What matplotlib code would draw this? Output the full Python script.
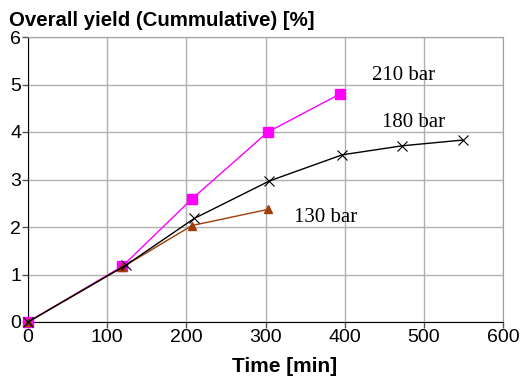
import matplotlib
matplotlib.use('Agg')
import matplotlib.pyplot as plt

# datos
t210 = [0, 119, 207, 303, 394]
y210 = [0, 1.17, 2.59, 4.0, 4.8]
t180 = [0, 124, 210, 305, 397, 473, 549]
y180 = [0, 1.2, 2.18, 2.97, 3.52, 3.71, 3.83]
t130 = [0, 119, 207, 303]
y130 = [0, 1.15, 2.03, 2.37]

fig = plt.figure(figsize=(5.22, 3.76), dpi=100)
ax = fig.add_axes([28/522, 1-322/376, 475/522, 285/376])

ax.plot(t210, y210, color='#ff00ff', marker='s', markersize=6.5, lw=1.0, zorder=3, clip_on=False)
ax.plot(t180, y180, color='black', marker='x', markersize=7, mew=0.8, lw=1.0, zorder=4, clip_on=False)
ax.plot(t130, y130, color='#a03c0a', marker='^', markersize=6, lw=1.0, zorder=3, clip_on=False)

ax.set_xlim(0, 600)
ax.set_ylim(0, 6)
ax.set_xticks(range(0, 601, 100))
ax.set_yticks(range(0, 7))
ax.grid(True, color='#b0b0b0', lw=1)
ax.set_axisbelow(True)
for s in ['top', 'right']:
    ax.spines[s].set_color('#a0a0a0')
for s in ['left', 'bottom']:
    ax.spines[s].set_color('black')
ax.tick_params(direction='out', length=4, width=1, color='#555555',
               labelsize=14, pad=1)
for lab in ax.get_xticklabels() + ax.get_yticklabels():
    lab.set_family('Liberation Sans')

ax.text(475, 5.2, '210 bar', family='Liberation Serif', fontsize=15, ha='center', va='center')
ax.text(487, 4.21, '180 bar', family='Liberation Serif', fontsize=15, ha='center', va='center')
ax.text(376, 2.19, '130 bar', family='Liberation Serif', fontsize=15, ha='center', va='center')

fig.text(9/522, 1-20/376, 'Overall yield (Cummulative) [%]', family='Liberation Sans',
         fontweight='bold', fontsize=14.7, va='center', ha='center' if False else 'left')
fig.text(285/522, 1-366/376, 'Time [min]', family='Liberation Sans',
         fontweight='bold', fontsize=15, va='center', ha='center')

fig.savefig('out.png', dpi=100)
